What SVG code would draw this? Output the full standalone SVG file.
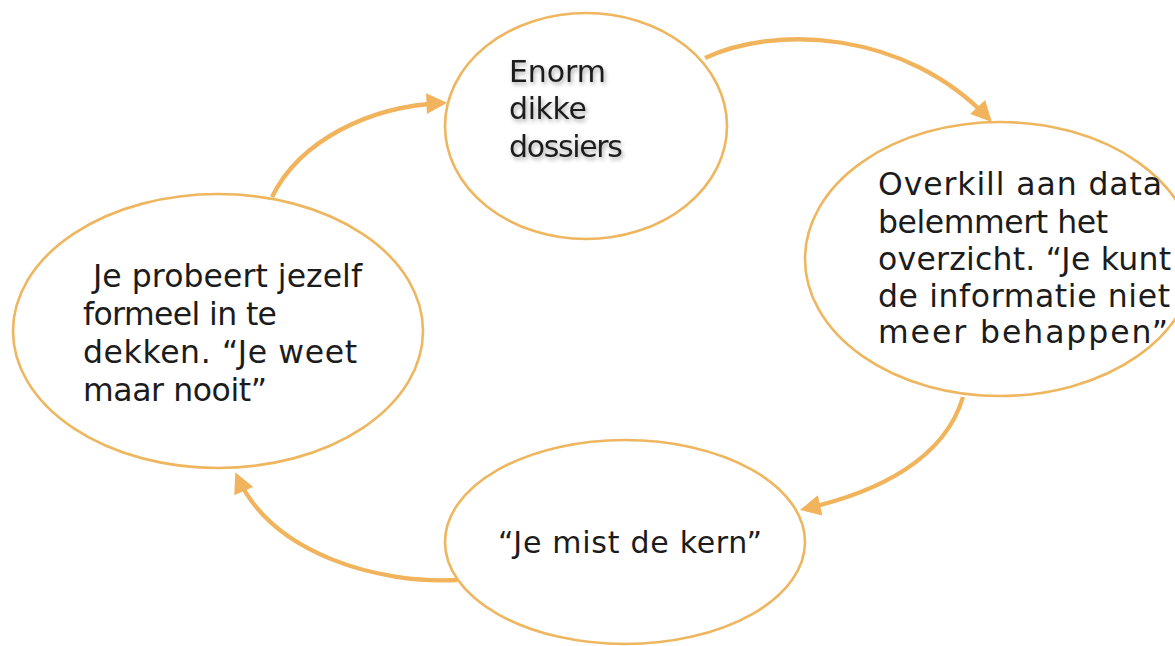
<svg xmlns="http://www.w3.org/2000/svg" width="1175" height="646" viewBox="0 0 1175 646">
  <style>
    .node { fill: #ffffff; stroke: #EFB660; stroke-width: 2.6; }
    .conn { fill: none; stroke: #F1B45C; stroke-width: 4.3; stroke-linecap: butt; }
    .lbl { font-family: "DejaVu Sans", "Liberation Sans", sans-serif; font-size: 30px; fill: #1c1c1c; }
    .big { font-size: 31.5px; }
  </style>
  <defs>
    <marker id="arrow" viewBox="0 0 10 10" refX="8" refY="5" markerWidth="5.2" markerHeight="4.8" orient="auto" markerUnits="strokeWidth">
      <path d="M0,0 L10,5 L0,10 z" fill="#F1B45C"/>
    </marker>
    <filter id="tshadow" x="-10%" y="-20%" width="130%" height="160%">
      <feDropShadow dx="1.5" dy="2.5" stdDeviation="2" flood-color="#000000" flood-opacity="0.35"/>
    </filter>
  </defs>
  <rect x="0" y="0" width="1175" height="646" fill="#ffffff"/>

  <g id="node-dossiers">
    <ellipse class="node" cx="586" cy="126" rx="141" ry="113"/>
    <g class="lbl" filter="url(#tshadow)">
      <text x="509" y="82" textLength="97">Enorm</text>
      <text x="509" y="119" textLength="78">dikke</text>
      <text x="509" y="157" textLength="114">dossiers</text>
    </g>
  </g>

  <g id="node-overkill">
    <ellipse class="node" cx="1000" cy="259" rx="195" ry="137"/>
    <g class="lbl big">
      <text x="878" y="195" textLength="284">Overkill aan data</text>
      <text x="878" y="233" textLength="230">belemmert het</text>
      <text x="878" y="270" textLength="293">overzicht. “Je kunt</text>
      <text x="878" y="307" textLength="292">de informatie niet</text>
      <text x="878" y="343" textLength="290">meer behappen”</text>
    </g>
  </g>

  <g id="node-kern">
    <ellipse class="node" cx="625" cy="542" rx="180" ry="102"/>
    <text class="lbl" x="498" y="553" textLength="264">“Je mist de kern”</text>
  </g>

  <g id="node-indekken">
    <ellipse class="node" cx="218" cy="331" rx="205" ry="137"/>
    <g class="lbl big">
      <text x="93" y="287" textLength="269">Je probeert jezelf</text>
      <text x="83" y="325" textLength="194">formeel in te</text>
      <text x="83" y="363" textLength="274">dekken. “Je weet</text>
      <text x="83" y="401" textLength="184">maar nooit”</text>
    </g>
  </g>

  <g id="connectors">
    <path class="conn" marker-end="url(#arrow)" d="M272,197 C300,140 370,106 443,103"/>
    <path class="conn" marker-end="url(#arrow)" d="M705,58 C775,25 905,30 989,119"/>
    <path class="conn" marker-end="url(#arrow)" d="M963,397 C945,458 880,492 804,509"/>
    <path class="conn" marker-end="url(#arrow)" d="M457,580 C380,584 272,555 237,476"/>
  </g>
</svg>
